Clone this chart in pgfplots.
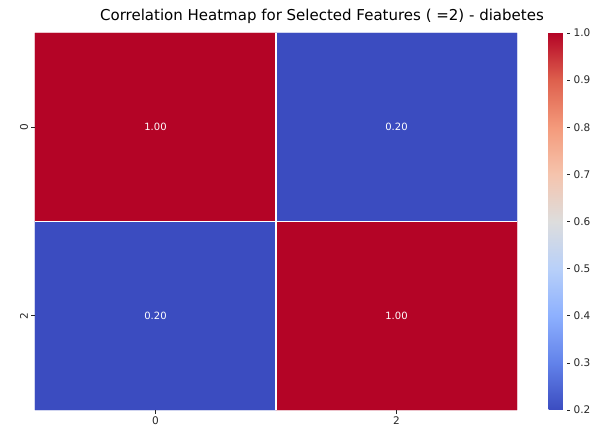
\documentclass[border=0pt]{standalone}
\usepackage{pgfplots}
\pgfplotsset{compat=1.18}
\usepackage{fontspec}
\setmainfont{DejaVu Sans}
\begin{document}
\begin{tikzpicture}
\begin{axis}[
  at={(0,0)}, anchor=south west,
  width=482pt, height=377pt, scale only axis,
  xmin=-0.5, xmax=1.5, ymin=-0.5, ymax=1.5, y dir=reverse,
  xtick={0,1}, xticklabels={0,2}, ytick={0,1}, yticklabels={0,2},
  xtick pos=bottom, ytick pos=left,
  yticklabel style={rotate=90},
  ticklabel style={font=\fontsize{10.5}{12}\selectfont, text=black!85},
  minor xtick={0.5}, minor ytick={0.5},
  minor tick length=0pt,
  major tick length=3.5pt,
  tick align=outside,
  tick style={black!85, line width=0.6pt},
  grid=minor,
  minor grid style={white, line width=1.6pt},
  axis on top,
  axis line style={draw=none},
  colormap={cw}{rgb255=(59,76,192) rgb255=(98,130,234) rgb255=(141,176,254) rgb255=(184,208,249) rgb255=(221,221,221) rgb255=(245,196,173) rgb255=(244,154,123) rgb255=(222,96,77) rgb255=(180,4,38)},
  point meta min=0.2, point meta max=1.0,
  colorbar,
  colorbar style={
    at={(parent axis.north east)}, anchor=north west, xshift=23pt,
    width=18pt, scale only axis,
    ytick={0.2,0.3,0.4,0.5,0.6,0.7,0.8,0.9,1.0},
    ytick pos=right,
    yticklabel style={/pgf/number format/.cd, fixed, fixed zerofill, precision=1, assume math mode=true},
    ticklabel style={font=\fontsize{10.5}{12}\selectfont, text=black!85},
    axis line style={draw=none},
    tick align=outside, major tick length=3.5pt,
    tick style={black!85, line width=0.6pt},
  },
  title={Correlation Heatmap for Selected Features ( =2) - diabetes},
  title style={font=\fontsize{15}{17}\selectfont, at={(0.5,1)}, anchor=base, yshift=6pt, xshift=46pt},
]
\addplot[matrix plot*, mesh/cols=2, point meta=explicit] table[meta=c]{
x y c
0 0 1.00
1 0 0.20
0 1 0.20
1 1 1.00
};
\addplot[only marks, mark=none, nodes near coords, point meta=explicit symbolic,
  nodes near coords style={white, font=\fontsize{10}{12}\selectfont, anchor=center}] table[meta=t]{
x y t
0 0 1.00
1 0 0.20
0 1 0.20
1 1 1.00
};
\end{axis}
\pgfresetboundingbox
\path (-35pt,-20pt) rectangle (567pt,410pt);
\end{tikzpicture}
\end{document}
